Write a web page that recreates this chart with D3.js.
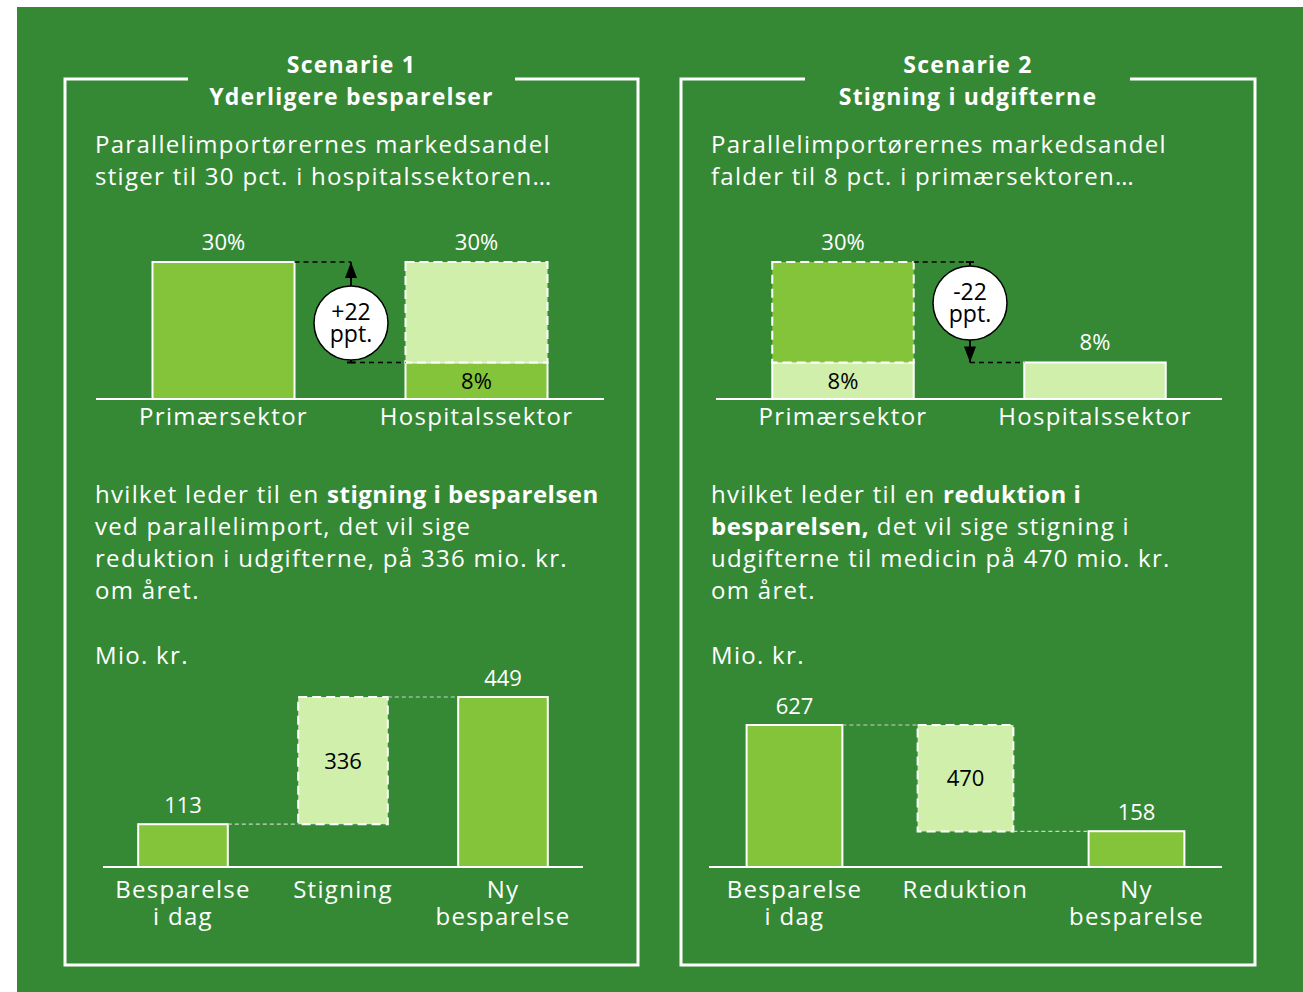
<!DOCTYPE html>
<html>
<head>
<meta charset="utf-8">
<script src="https://cdn.jsdelivr.net/npm/d3@7"></script>
<style>
  body { margin: 0; background: #fff; }
  svg text { font-family: "Open Sans", Lato, sans-serif; }
</style>
</head>
<body>
<div class="chart"></div>
<script>
// ---- data ----
const sectors = ['Primærsektor', 'Hospitalssektor'];
// share of parallel import (pct) : [from, to] per sector
const s1Shares = [[30, 30], [8, 30]];
const s2Shares = [[30, 8], [8, 8]];
const s1Change = ['+22', 'ppt.'];
const s2Change = ['-22', 'ppt.'];

const wf1Cats = ['Besparelse i dag', 'Stigning', 'Ny besparelse'];
const wf1Vals = [113, 336, 449];
const wf2Cats = ['Besparelse i dag', 'Reduktion', 'Ny besparelse'];
const wf2Vals = [627, -470, 158];

const titles = [['Scenarie 1', 'Yderligere besparelser'], ['Scenarie 2', 'Stigning i udgifterne']];
const intro = [
  ['Parallelimportørernes markedsandel', 'stiger til 30 pct. i hospitalssektoren…'],
  ['Parallelimportørernes markedsandel', 'falder til 8 pct. i primærsektoren…']
];
// [text, bold]
const result = [
  [[['hvilket leder til en ', 0], ['stigning i besparelsen', 1]],
   [['ved parallelimport, det vil sige', 0]],
   [['reduktion i udgifterne, på 336 mio. kr.', 0]],
   [['om året.', 0]]],
  [[['hvilket leder til en ', 0], ['reduktion i', 1]],
   [['besparelsen,', 1], [' det vil sige stigning i', 0]],
   [['udgifterne til medicin på 470 mio. kr.', 0]],
   [['om året.', 0]]]
];
const unitLabel = 'Mio. kr.';

const GREEN = '#358935', MID = '#84c43a', PALE = '#d0efab';
const LS = 1.3; // letter spacing to mimic the wide original face

const svg = d3.select('.chart').append('svg')
  .attr('width', 1303).attr('height', 992);

svg.append('rect').attr('x', 17).attr('y', 7).attr('width', 1286).attr('height', 985).attr('fill', GREEN);

const panels = [{x0: 65, x1: 638, gap: [188, 515]}, {x0: 681, x1: 1255, gap: [805, 1130]}];

panels.forEach((p, i) => {
  const g = svg.append('g');
  const top = 79, bot = 965;
  g.append('path')
    .attr('d', `M${p.gap[0]},${top}H${p.x0}V${bot}H${p.x1}V${top}H${p.gap[1]}`)
    .attr('fill', 'none').attr('stroke', '#fff').attr('stroke-width', 3);
  const cx = (p.x0 + p.x1) / 2;
  titles[i].forEach((t, j) => {
    g.append('text').attr('x', cx).attr('y', 73 + j * 32)
      .attr('text-anchor', 'middle').attr('fill', '#fff').attr('letter-spacing', 1.2)
      .attr('font-size', 23).attr('font-weight', 'bold').text(t);
  });
  intro[i].forEach((t, j) => {
    g.append('text').attr('x', p.x0 + 30).attr('y', 153 + j * 32)
      .attr('fill', '#fff').attr('font-size', 24).attr('letter-spacing', LS).text(t);
  });
  result[i].forEach((line, j) => {
    const tx = g.append('text').attr('x', p.x0 + 30).attr('y', 503 + j * 32)
      .attr('fill', '#fff').attr('font-size', 24);
    line.forEach(s => tx.append('tspan')
      .attr('font-weight', s[1] ? 'bold' : 'normal')
      .attr('letter-spacing', s[1] ? 0.5 : LS).text(s[0]));
  });
  g.append('text').attr('x', p.x0 + 30).attr('y', 664)
    .attr('fill', '#fff').attr('font-size', 24).attr('letter-spacing', LS).text(unitLabel);
});

// ---- top share charts ----
function shareChart(shares, change, rng, up) {
  const g = svg.append('g');
  const x = d3.scaleBand().domain(sectors).range(rng).paddingInner(0.4387).paddingOuter(0.2233);
  const y = d3.scaleLinear().domain([0, 30]).range([399, 262]);
  const bw = x.bandwidth();

  shares.forEach((s, k) => {
    const xs = x(sectors[k]);
    const lo = Math.min(s[0], s[1]), hi = Math.max(s[0], s[1]);
    const baseFill = up ? MID : PALE;
    g.append('rect').attr('x', xs).attr('y', y(lo)).attr('width', bw).attr('height', y(0) - y(lo))
      .attr('fill', baseFill).attr('stroke', '#fff').attr('stroke-width', 2);
    if (hi > lo) {
      g.append('rect').attr('x', xs).attr('y', y(hi)).attr('width', bw).attr('height', y(lo) - y(hi))
        .attr('fill', up ? PALE : MID).attr('stroke', '#fff').attr('stroke-width', 2)
        .attr('stroke-dasharray', '9,5');
      g.append('text').attr('x', xs + bw / 2).attr('y', (y(lo) + y(0)) / 2 + 8)
        .attr('text-anchor', 'middle').attr('font-size', 22).attr('fill', '#000').text(lo + '%');
    }
    g.append('text').attr('x', xs + bw / 2).attr('y', y(hi) - 12)
      .attr('text-anchor', 'middle').attr('font-size', 22).attr('fill', '#fff').text(hi + '%');
  });

  const axis = g.append('g').attr('transform', 'translate(0,399)')
    .call(d3.axisBottom(x).tickSize(0).tickPadding(9));
  axis.select('.domain').attr('stroke', '#fff').attr('stroke-width', 2).attr('d', `M${rng[0]},0H${rng[1]}`);
  axis.selectAll('text').attr('fill', '#fff').attr('font-size', 24).attr('letter-spacing', LS)
    .attr('font-family', '"Open Sans", sans-serif');

  // change annotation
  const x0 = x(sectors[0]) + bw, x1 = x(sectors[1]);
  const ax = (x0 + x1) / 2 + 1;
  const yHi = y(30), yLo = y(8);
  g.append('line').attr('x1', x0).attr('x2', ax).attr('y1', yHi).attr('y2', yHi)
    .attr('stroke', '#000').attr('stroke-width', 1.5).attr('stroke-dasharray', '5,4');
  g.append('line').attr('x1', ax).attr('x2', x1).attr('y1', yLo).attr('y2', yLo)
    .attr('stroke', '#000').attr('stroke-width', 1.5).attr('stroke-dasharray', '5,4');
  g.append('line').attr('x1', ax).attr('x2', ax).attr('y1', yHi).attr('y2', yLo)
    .attr('stroke', '#000').attr('stroke-width', 2);
  const tip = up ? yHi : yLo, dir = up ? 1 : -1;
  g.append('path').attr('d', `M${ax},${tip}L${ax - 6},${tip + dir * 16}L${ax + 6},${tip + dir * 16}Z`).attr('fill', '#000');
  g.append('path').attr('d', up ? `M${ax - 4},${yLo}H${ax + 4}` : `M${ax - 4},${yHi}H${ax + 4}`)
    .attr('stroke', '#000').attr('stroke-width', 2);
  const cy = up ? 323 : 303;
  g.append('circle').attr('cx', ax).attr('cy', cy).attr('r', 37)
    .attr('fill', '#fff').attr('stroke', '#000').attr('stroke-width', 1.5);
  const ct = g.append('text').attr('x', ax).attr('y', cy - 3).attr('text-anchor', 'middle')
    .attr('font-size', 23).attr('fill', '#000');
  change.forEach((t, j) => ct.append('tspan').attr('x', ax).attr('dy', j ? 22 : 0).text(t));
}
shareChart(s1Shares, s1Change, [96, 604], true);
shareChart(s2Shares, s2Change, [716, 1222], false);

// ---- waterfall charts ----
function waterfall(cats, vals, rng, yTop) {
  const g = svg.append('g');
  const x = d3.scaleBand().domain(cats).range(rng).paddingInner(0.44).paddingOuter(0.22);
  const y = d3.scaleLinear().domain([0, d3.max([vals[0], vals[2]])]).range([867, yTop]);
  const bw = x.bandwidth();
  const start = vals[0], end = vals[0] + vals[1];
  const bars = [
    {c: cats[0], a: 0, b: vals[0], fill: MID, dash: null, lab: vals[0], inside: false},
    {c: cats[1], a: Math.min(start, end), b: Math.max(start, end), fill: PALE, dash: '9,5', lab: Math.abs(vals[1]), inside: true},
    {c: cats[2], a: 0, b: vals[2], fill: MID, dash: null, lab: vals[2], inside: false}
  ];
  g.selectAll('rect').data(bars).enter().append('rect')
    .attr('x', d => x(d.c)).attr('y', d => y(d.b)).attr('width', bw).attr('height', d => y(d.a) - y(d.b))
    .attr('fill', d => d.fill).attr('stroke', '#fff').attr('stroke-width', 2)
    .attr('stroke-dasharray', d => d.dash);
  g.selectAll('.val').data(bars).enter().append('text')
    .attr('x', d => x(d.c) + bw / 2)
    .attr('y', d => d.inside ? (y(d.a) + y(d.b)) / 2 + 8 : y(d.b) - 11)
    .attr('text-anchor', 'middle').attr('font-size', 22)
    .attr('fill', d => d.inside ? '#000' : '#fff').text(d => d.lab);
  [[0, 1, start], [1, 2, end]].forEach(c => {
    g.append('line').attr('x1', x(cats[c[0]]) + bw).attr('x2', x(cats[c[1]]))
      .attr('y1', y(c[2])).attr('y2', y(c[2]))
      .attr('stroke', '#c8d8c0').attr('stroke-width', 1.2).attr('stroke-dasharray', '4,3');
  });
  const axis = g.append('g').attr('transform', 'translate(0,867)')
    .call(d3.axisBottom(x).tickSize(0).tickPadding(10).tickFormat(() => ''));
  axis.select('.domain').attr('stroke', '#fff').attr('stroke-width', 2).attr('d', `M${rng[0]},0H${rng[1]}`);
  axis.selectAll('.tick text').each(function(d) {
    const parts = d.startsWith('Besparelse') ? ['Besparelse', 'i dag'] : d.startsWith('Ny') ? ['Ny', 'besparelse'] : [d];
    const t = d3.select(this).attr('fill', '#fff').attr('font-size', 24).attr('letter-spacing', LS)
      .attr('font-family', '"Open Sans", sans-serif').attr('dy', null).attr('y', 31);
    parts.forEach((s, j) => t.append('tspan').attr('x', 0).attr('dy', j ? 27 : 0).text(s));
  });
}
waterfall(wf1Cats, wf1Vals, [103, 583], 697);
waterfall(wf2Cats, wf2Vals, [709, 1222], 725);
</script>
</body>
</html>
